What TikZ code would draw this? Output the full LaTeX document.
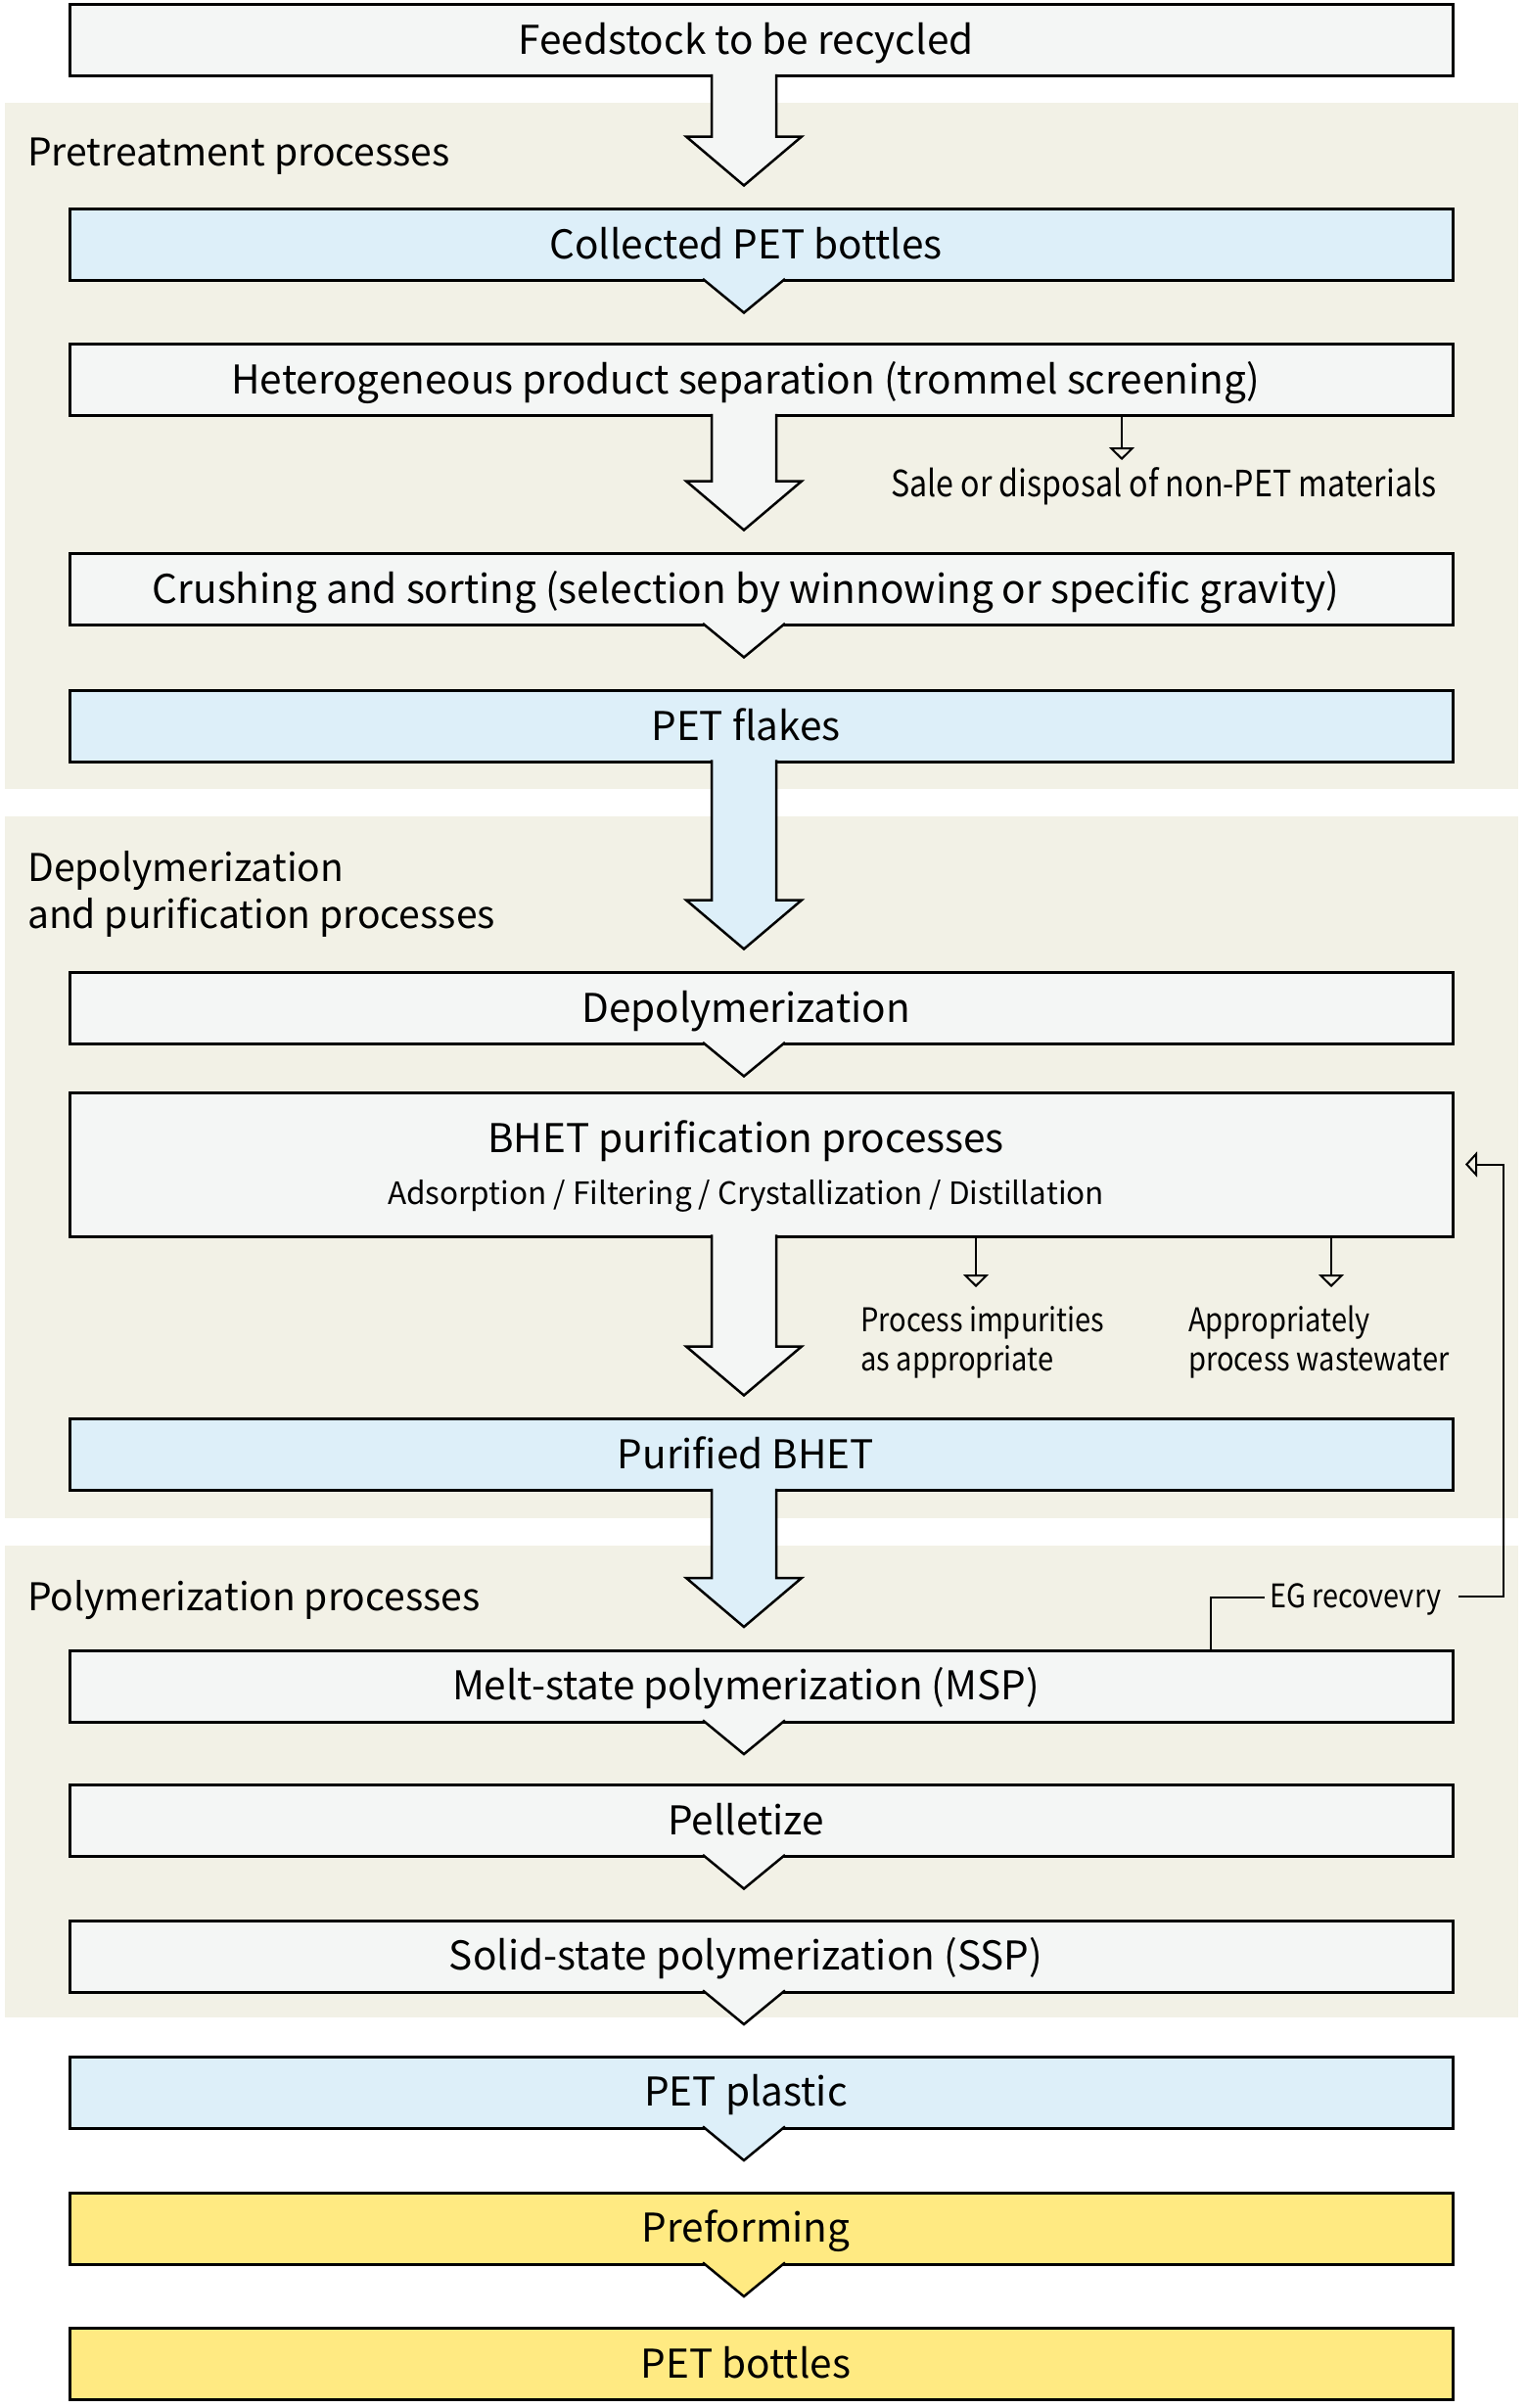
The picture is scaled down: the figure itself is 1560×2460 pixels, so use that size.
\documentclass[tikz,border=0pt]{standalone}
\usepackage{fontspec}
\setmainfont{Noto Sans CJK KR}
\newfontfamily\condfont[FakeStretch=0.87]{Noto Sans CJK KR}
\usetikzlibrary{calc,arrows.meta}
\definecolor{boxgrey}{HTML}{F4F6F5}
\definecolor{boxblue}{HTML}{DDEFF9}
\definecolor{boxyellow}{HTML}{FFEA82}
\definecolor{panelbg}{HTML}{F2F1E6}
\newcommand\blockarr[3]{%
  \filldraw[fill=#3, draw=black, line width=2.5pt, line join=miter]
    ($(#1.south -| ax)+(-33,-1.6)$) -- ($(#2.north -| ax)+(-33,-74)$)
    -- ($(#2.north -| ax)+(-59,-74)$) -- ($(#2.north -| ax)+(0,-24)$)
    -- ($(#2.north -| ax)+(59,-74)$) -- ($(#2.north -| ax)+(33,-74)$)
    -- ($(#1.south -| ax)+(33,-1.6)$);}
\newcommand\pointer[2]{%
  \filldraw[fill=#2, draw=black, line width=2.5pt, line join=miter]
    ($(#1.south -| ax)+(-42,-1.6)$) -- ($(#1.south -| ax)+(0,33)$)
    -- ($(#1.south -| ax)+(42,-1.6)$);}
\begin{document}
\begin{tikzpicture}[x=1pt,y=-1pt,
  box/.style={rectangle, draw=black, line width=3pt, minimum width=1413pt,
    minimum height=73pt, inner sep=0pt, outer sep=0pt},
  main/.style={anchor=base, inner sep=0pt, font=\fontsize{40.5pt}{48pt}\selectfont},
  subtxt/.style={anchor=base, inner sep=0pt, font=\fontsize{31.5pt}{37pt}\selectfont},
  title/.style={anchor=base west, inner sep=0pt, align=left,
    font=\fontsize{39pt}{48pt}\selectfont},
  side/.style={anchor=base west, inner sep=0pt, align=left,
    font=\condfont\fontsize{33.4pt}{40pt}\selectfont},
  thin/.style={draw=black, line width=2pt},
  outarr/.style={thin, -{Triangle[open, length=13pt, width=26pt, line width=2pt]}},
]
\useasboundingbox (0,0) rectangle (1560,2460);
\coordinate (ax) at (760,0);
% panels
\fill[panelbg] (5,105) rectangle (1551,806);
\fill[panelbg] (5,834) rectangle (1551,1551);
\fill[panelbg] (5,1579) rectangle (1551,2061);
\node[title] (p1) at (28,169) {Pretreatment processes};
\node[title] (p2) at (28,948) {Depolymerization\\and purification processes};
\node[title] (p3) at (28,1645) {Polymerization processes};
% boxes
\node[box, fill=boxgrey] (b1) at (777.5,41) {};
\node[box, fill=boxblue] (b2) at (777.5,250) {};
\node[box, fill=boxgrey] (b3) at (777.5,388) {};
\node[box, fill=boxgrey] (b4) at (777.5,602) {};
\node[box, fill=boxblue] (b5) at (777.5,741.5) {};
\node[box, fill=boxgrey] (b6) at (777.5,1030) {};
\node[box, fill=boxgrey, minimum height=147pt] (b7) at (777.5,1189.5) {};
\node[box, fill=boxblue] (b8) at (777.5,1486) {};
\node[box, fill=boxgrey] (b9) at (777.5,1722.5) {};
\node[box, fill=boxgrey] (b10) at (777.5,1860) {};
\node[box, fill=boxgrey] (b11) at (777.5,1998.5) {};
\node[box, fill=boxblue] (b12) at (777.5,2137.5) {};
\node[box, fill=boxyellow] (b13) at (777.5,2276.5) {};
\node[box, fill=boxyellow] (b14) at (777.5,2415) {};
% connectors
\blockarr{b1}{b2}{boxgrey}
\pointer{b2}{boxblue}
\blockarr{b3}{b4}{boxgrey}
\pointer{b4}{boxgrey}
\blockarr{b5}{b6}{boxblue}
\pointer{b6}{boxgrey}
\blockarr{b7}{b8}{boxgrey}
\blockarr{b8}{b9}{boxblue}
\pointer{b9}{boxgrey}
\pointer{b10}{boxgrey}
\pointer{b11}{boxgrey}
\pointer{b12}{boxblue}
\pointer{b13}{boxyellow}
% texts
\node[main] (t1) at (762,55) {Feedstock to be recycled};
\node[main] (t2) at (762,264) {Collected PET bottles};
\node[main] (t3) at (762,402) {Heterogeneous product separation (trommel screening)};
\node[main] (t4) at (762,616) {Crushing and sorting (selection by winnowing or specific gravity)};
\node[main] (t5) at (762,756) {PET flakes};
\node[main] (t6) at (762,1044) {Depolymerization};
\node[main] (t7) at (762,1177) {BHET purification processes};
\node[subtxt] (t7b) at (762,1230) {Adsorption / Filtering / Crystallization / Distillation};
\node[main] (t8) at (762,1500) {Purified BHET};
\node[main] (t9) at (762,1736) {Melt-state polymerization (MSP)};
\node[main] (t10) at (762,1874) {Pelletize};
\node[main] (t11) at (762,2012) {Solid-state polymerization (SSP)};
\node[main] (t12) at (762,2151) {PET plastic};
\node[main] (t13) at (762,2290) {Preforming};
\node[main] (t14) at (762,2429) {PET bottles};
% side outputs
\node[side, font=\condfont\fontsize{37pt}{44pt}\selectfont] (s1) at (910,507) {Sale or disposal of non-PET materials};
\coordinate (s1a) at (1146,470);
\draw[outarr] (b3.south -| s1a) -- (s1a);
\node[side] (s2) at (879,1400) {Process impurities\\as appropriate};
\coordinate (s2a) at (997,1315);
\draw[outarr] (b7.south -| s2a) -- (s2a);
\node[side] (s3) at (1214,1400) {Appropriately\\process wastewater};
\coordinate (s3a) at (1360,1315);
\draw[outarr] (b7.south -| s3a) -- (s3a);
% EG recovery
\node[anchor=west, inner xsep=5pt, inner ysep=0pt, text height=21pt, text depth=0pt,
  font=\condfont\fontsize{33.2pt}{38pt}\selectfont] (eg) at (1292,1632) {EG recovevry};
\coordinate (egc) at (1536,1631);
\coordinate (egx) at (1237,1631);
\draw[thin] (b9.north -| egx) |- (eg.west);
\draw[thin, -{Triangle[open, length=12pt, width=26pt, line width=2pt]}]
  ($(eg.east)+(13,-1)$) -- (egc) |- ($(b7.east)+(13,0)$);
\end{tikzpicture}
\end{document}
